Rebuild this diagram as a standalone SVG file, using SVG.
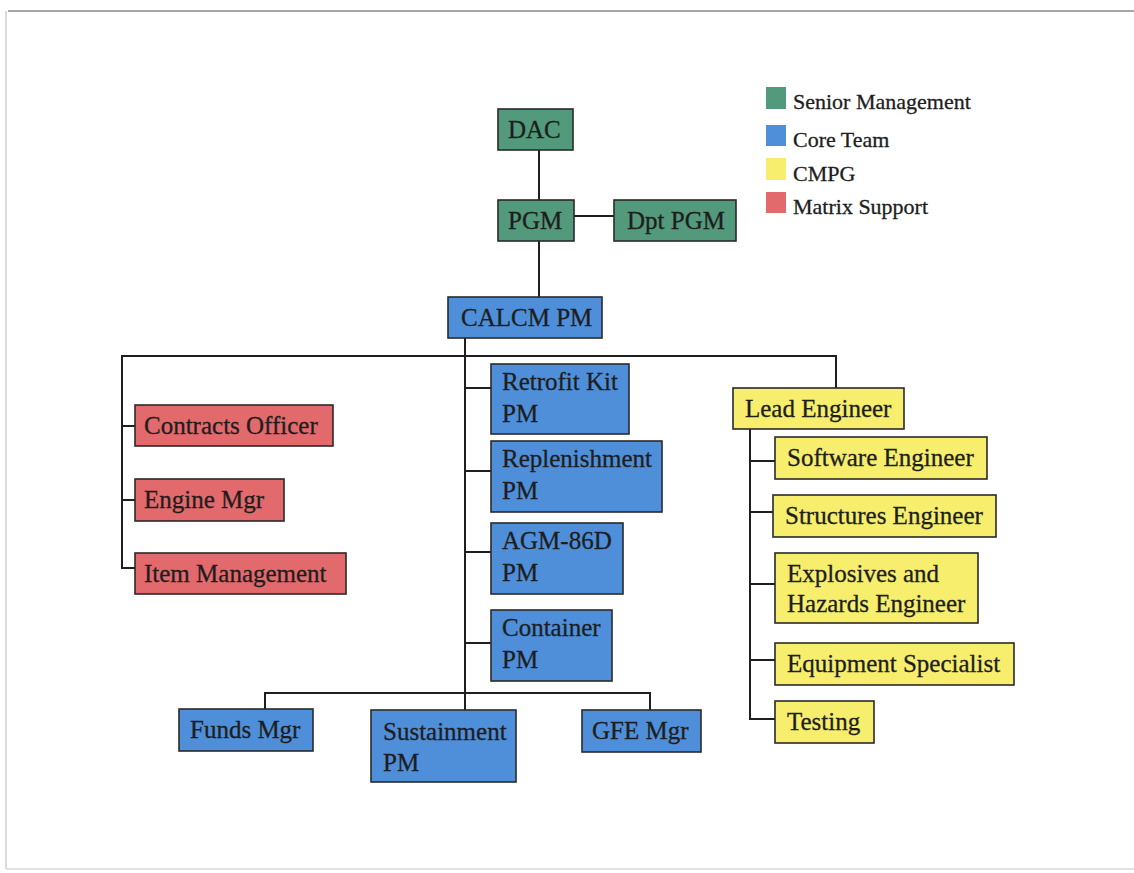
<svg xmlns="http://www.w3.org/2000/svg" width="1134" height="873" viewBox="0 0 1134 873">
<style>
.n rect{stroke:#2a2a2a;stroke-width:1.6}
.g{fill:#53997b}.b{fill:#4f8fd9}.y{fill:#f6ee6c}.r{fill:#e2696c}
text{font-family:"Liberation Serif","Times New Roman",serif;fill:#1e1e1e;stroke:#1e1e1e;stroke-width:0.3}
.t{font-size:25px}
.lg{font-size:22px}
#connectors line{stroke:#1f1f1f;stroke-width:2}
</style>
<rect x="0" y="0" width="1134" height="873" fill="#fff"/>
<g id="frame">
<line x1="8" y1="11" x2="1134" y2="11" stroke="#8a8a8a" stroke-width="1.5"/>
<line x1="6" y1="11" x2="6" y2="869" stroke="#cfcfcf" stroke-width="1.5"/>
<line x1="6" y1="869" x2="1134" y2="869" stroke="#d8d8d8" stroke-width="1.5"/>
</g>
<g id="connectors">
<line x1="539" y1="150" x2="539" y2="200"/>
<line x1="574" y1="216" x2="614" y2="216"/>
<line x1="539" y1="241" x2="539" y2="297"/>
<line x1="465" y1="338" x2="465" y2="693"/>
<line x1="122" y1="356" x2="837" y2="356"/>
<line x1="122" y1="355" x2="122" y2="569"/>
<line x1="121" y1="426" x2="135" y2="426"/>
<line x1="121" y1="500" x2="135" y2="500"/>
<line x1="121" y1="568" x2="135" y2="568"/>
<line x1="465" y1="388" x2="491" y2="388"/>
<line x1="465" y1="471" x2="491" y2="471"/>
<line x1="465" y1="552" x2="491" y2="552"/>
<line x1="465" y1="643" x2="491" y2="643"/>
<line x1="836" y1="355" x2="836" y2="388"/>
<line x1="750" y1="429" x2="750" y2="720"/>
<line x1="749" y1="461" x2="775" y2="461"/>
<line x1="749" y1="512" x2="773" y2="512"/>
<line x1="749" y1="584" x2="775" y2="584"/>
<line x1="749" y1="660" x2="775" y2="660"/>
<line x1="749" y1="719" x2="775" y2="719"/>
<line x1="264" y1="693" x2="651" y2="693"/>
<line x1="265" y1="692" x2="265" y2="709"/>
<line x1="650" y1="692" x2="650" y2="710"/>
<line x1="465" y1="692" x2="465" y2="710"/>
</g>
<g id="legend">
<rect x="766" y="87" width="20" height="22" class="g"/>
<text x="793" y="109" class="lg">Senior Management</text>
<rect x="766" y="125" width="20" height="21" class="b"/>
<text x="793" y="147" class="lg">Core Team</text>
<rect x="766" y="158" width="20" height="22" class="y"/>
<text x="793" y="181" class="lg">CMPG</text>
<rect x="766" y="192" width="20" height="21" class="r"/>
<text x="793" y="214" class="lg">Matrix Support</text>
</g>
<g id="dac" class="n"><rect x="498" y="109" width="75" height="41" class="g"/><text x="508" y="138" class="t">DAC</text></g>
<g id="pgm" class="n"><rect x="498" y="200" width="76" height="41" class="g"/><text x="508" y="229" class="t">PGM</text></g>
<g id="dptpgm" class="n"><rect x="614" y="200" width="122" height="41" class="g"/><text x="627" y="229" class="t">Dpt PGM</text></g>
<g id="calcm" class="n"><rect x="448" y="297" width="154" height="41" class="b"/><text x="461" y="326" class="t">CALCM PM</text></g>
<g id="contracts" class="n"><rect x="135" y="405" width="198" height="41" class="r"/><text x="144" y="434" class="t">Contracts Officer</text></g>
<g id="engine" class="n"><rect x="135" y="479" width="149" height="42" class="r"/><text x="144" y="508" class="t">Engine Mgr</text></g>
<g id="item" class="n"><rect x="135" y="553" width="211" height="41" class="r"/><text x="144" y="582" class="t">Item Management</text></g>
<g id="retrofit" class="n"><rect x="491" y="364" width="138" height="70" class="b"/><text x="502" y="390" class="t">Retrofit Kit</text><text x="502" y="422" class="t">PM</text></g>
<g id="replen" class="n"><rect x="491" y="441" width="171" height="71" class="b"/><text x="502" y="467" class="t">Replenishment</text><text x="502" y="499" class="t">PM</text></g>
<g id="agm" class="n"><rect x="491" y="523" width="132" height="71" class="b"/><text x="502" y="549" class="t">AGM-86D</text><text x="502" y="581" class="t">PM</text></g>
<g id="container" class="n"><rect x="491" y="610" width="121" height="71" class="b"/><text x="502" y="636" class="t">Container</text><text x="502" y="668" class="t">PM</text></g>
<g id="funds" class="n"><rect x="179" y="709" width="134" height="42" class="b"/><text x="190" y="738" class="t">Funds Mgr</text></g>
<g id="sustain" class="n"><rect x="371" y="710" width="145" height="72" class="b"/><text x="383" y="740" class="t">Sustainment</text><text x="383" y="771" class="t">PM</text></g>
<g id="gfe" class="n"><rect x="582" y="710" width="119" height="42" class="b"/><text x="592" y="739" class="t">GFE Mgr</text></g>
<g id="lead" class="n"><rect x="733" y="388" width="171" height="41" class="y"/><text x="745" y="417" class="t">Lead Engineer</text></g>
<g id="software" class="n"><rect x="775" y="437" width="212" height="42" class="y"/><text x="787" y="466" class="t">Software Engineer</text></g>
<g id="structures" class="n"><rect x="773" y="495" width="223" height="42" class="y"/><text x="785" y="524" class="t">Structures Engineer</text></g>
<g id="explosives" class="n"><rect x="775" y="553" width="203" height="70" class="y"/><text x="787" y="582" class="t">Explosives and</text><text x="787" y="612" class="t">Hazards Engineer</text></g>
<g id="equipment" class="n"><rect x="775" y="643" width="239" height="42" class="y"/><text x="787" y="672" class="t">Equipment Specialist</text></g>
<g id="testing" class="n"><rect x="775" y="701" width="99" height="42" class="y"/><text x="787" y="730" class="t">Testing</text></g>
</svg>
